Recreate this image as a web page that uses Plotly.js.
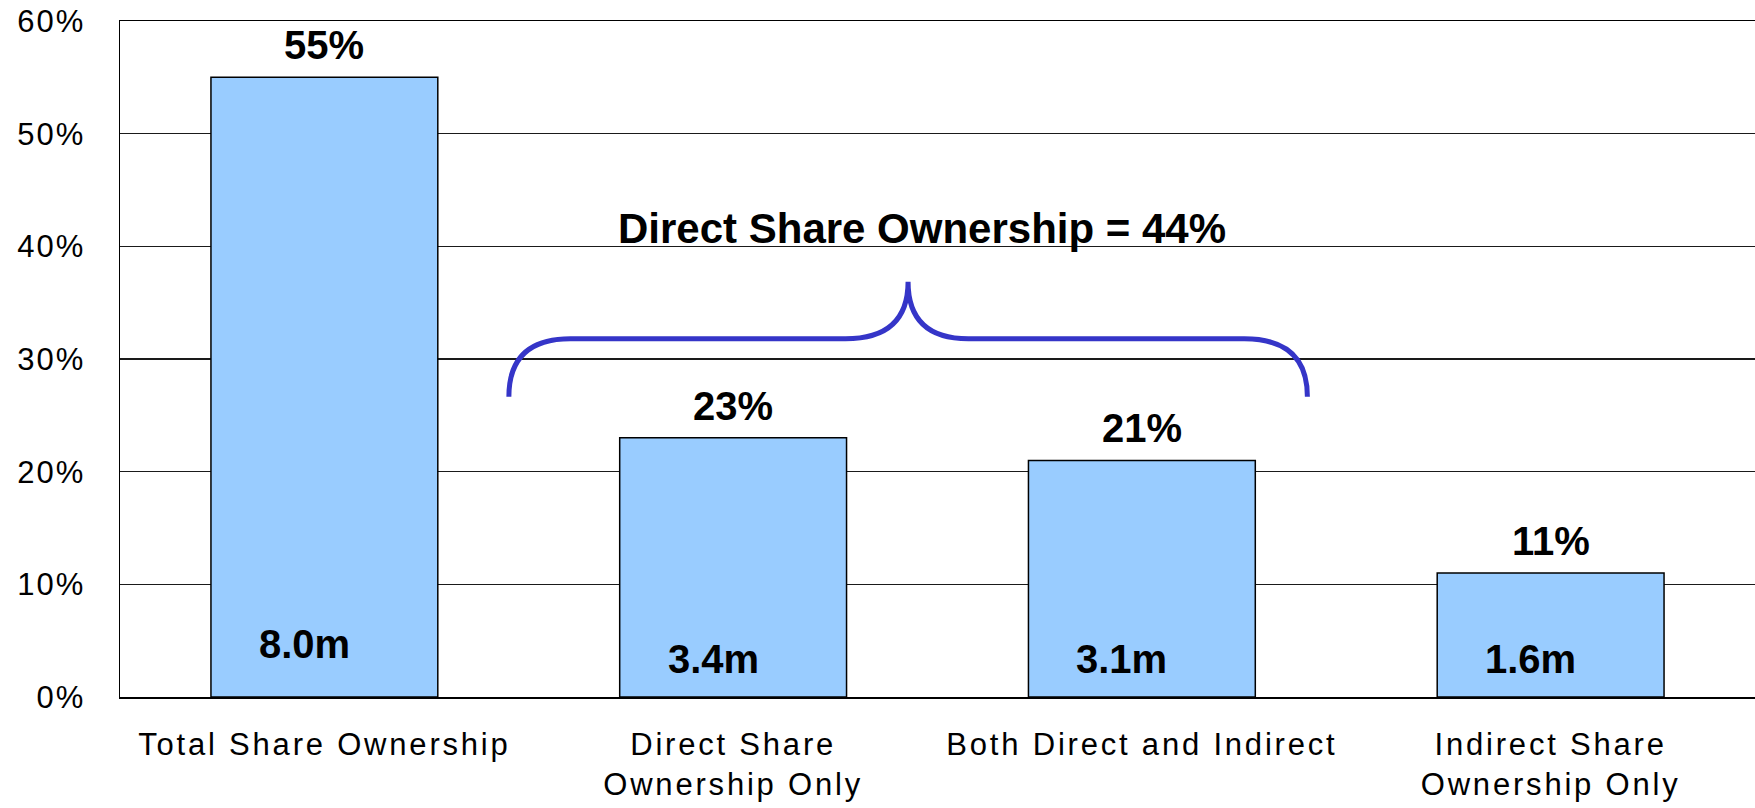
<!DOCTYPE html>
<html>
<head>
<meta charset="utf-8">
<script src="https://cdn.plot.ly/plotly-3.0.1.min.js"></script>
<style>
  html, body { margin: 0; padding: 0; background: #fff; }
  #chart { width: 1755px; height: 808px; }
  .xtick text { letter-spacing: 2.8px; }
  .ytick text { letter-spacing: 2px; }
</style>
</head>
<body>
<div id="chart"></div>
<script>
// ---- data ----
const categories = ['Total Share Ownership', 'Direct Share<br>Ownership Only', 'Both Direct and Indirect', 'Indirect Share<br>Ownership Only'];
const shareValues = [55, 23, 21, 11];
const valueLabels = ['55%', '23%', '21%', '11%'];
const countLabels = ['8.0m', '3.4m', '3.1m', '1.6m'];
const yTickValues = [0, 10, 20, 30, 40, 50, 60];
const yTickLabels = ['0%', '10%', '20%', '30%', '40%', '50%', '60%'];
const bracketLabel = 'Direct Share Ownership = 44%';

// ---- drawing ----
const FONT = 'Liberation Sans, Arial, Helvetica, sans-serif';
const idx = categories.map((_, i) => i);

const barTrace = {
  type: 'bar',
  x: idx,
  y: shareValues,
  width: 0.555,
  marker: { color: '#99CCFF', line: { color: '#000000', width: 1.5 } },
  hoverinfo: 'skip'
};

const annotations = [];
idx.forEach(i => {
  annotations.push({
    x: i, y: shareValues[i], xref: 'x', yref: 'y',
    text: '<b>' + valueLabels[i] + '</b>', showarrow: false,
    yanchor: 'middle', yshift: 32,
    font: { family: FONT, size: 40, color: '#000' }
  });
  annotations.push({
    x: i, y: 0, xref: 'x', yref: 'y',
    text: '<b>' + countLabels[i] + '</b>', showarrow: false,
    yanchor: 'middle', yshift: i === 0 ? 53 : 38, xshift: -20,
    font: { family: FONT, size: 40, color: '#000' }
  });
});
// bracket label
annotations.push({
  x: 1.463, y: 41.6, xref: 'x', yref: 'y',
  text: '<b>' + bracketLabel + '</b>', showarrow: false,
  yanchor: 'middle',
  font: { family: FONT, size: 42, color: '#000' }
});

// curly brace spanning the two "direct" bars
const bx0 = 0.4514, bx1 = 0.6018, bx2 = 1.2746, bxt = 1.428, bx3 = 1.5755, bx4 = 2.2508, bx5 = 2.4049;
const by0 = 26.65, byh = 31.79, byt = 36.85;
const bracePath = `M ${bx0},${by0} Q ${bx0},${byh} ${bx1},${byh} L ${bx2},${byh} Q ${bxt},${byh} ${bxt},${byt} ` +
                  `Q ${bxt},${byh} ${bx3},${byh} L ${bx4},${byh} Q ${bx5},${byh} ${bx5},${by0}`;

const layout = {
  width: 1755, height: 808,
  margin: { l: 120, r: 0, t: 21, b: 111, pad: 0 },
  paper_bgcolor: '#ffffff', plot_bgcolor: '#ffffff',
  showlegend: false,
  font: { family: FONT, color: '#000' },
  xaxis: {
    type: 'linear', range: [-0.5, 3.5],
    tickvals: idx, ticktext: categories,
    showgrid: false, zeroline: false,
    showline: true, mirror: true, linecolor: '#000', linewidth: 1.5,
    ticks: '', ticklabelstandoff: 19,
    tickfont: { family: FONT, size: 31, color: '#000' },
    fixedrange: true
  },
  yaxis: {
    range: [0, 60],
    tickvals: yTickValues, ticktext: yTickLabels,
    showgrid: true, gridcolor: '#1a1a1a', gridwidth: 1.3,
    zeroline: false,
    showline: true, mirror: true, linecolor: '#000', linewidth: 1.5,
    ticks: '', ticklabelstandoff: 27,
    tickfont: { family: FONT, size: 31, color: '#000' },
    fixedrange: true
  },
  annotations: annotations,
  shapes: [{
    type: 'path', xref: 'x', yref: 'y', path: bracePath,
    line: { color: '#3535C8', width: 5 }, layer: 'above'
  }]
};

Plotly.newPlot('chart', [barTrace], layout, { staticPlot: true, displayModeBar: false });
</script>
</body>
</html>
